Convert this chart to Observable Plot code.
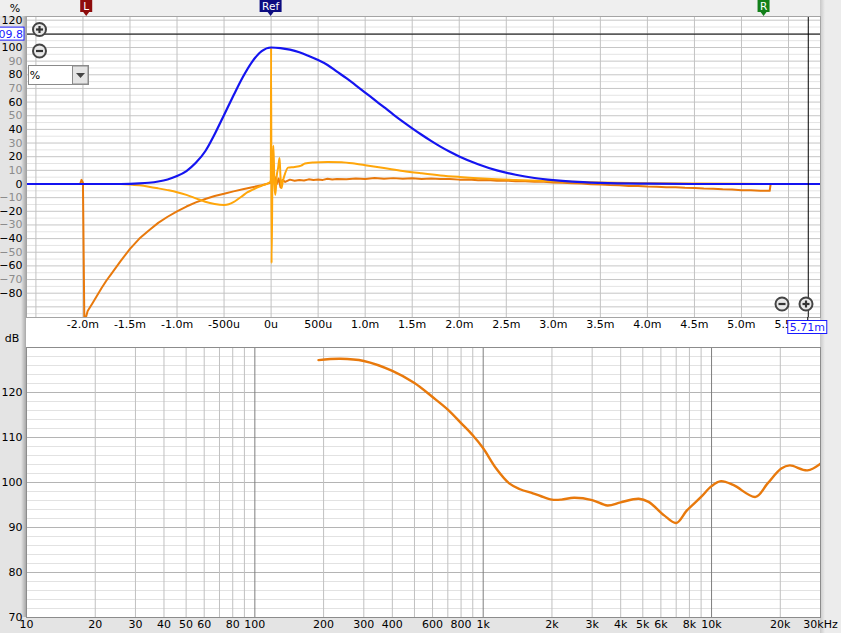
<!DOCTYPE html>
<html><head><meta charset="utf-8">
<script src="https://cdn.jsdelivr.net/npm/d3@7"></script>
<script src="https://cdn.jsdelivr.net/npm/@observablehq/plot@0.6"></script>
<style>
body{margin:0;background:#e6e6e6;}
#wrap{position:relative;width:841px;height:633px;overflow:hidden;background:#e4e4e4;font-family:"DejaVu Sans",sans-serif;}
#wrap svg{position:absolute;left:0;overflow:visible;}
.bg{position:absolute;}
</style></head><body><div id="wrap">
<div class="bg" style="left:0;top:0;width:841px;height:16px;background:#efefef"></div>
<div class="bg" style="left:820px;top:0;width:21px;height:633px;background:linear-gradient(90deg,#c8c8c8,#ececec 5px,#ececec)"></div>
<div class="bg" style="left:21px;top:16px;width:5px;height:601px;background:linear-gradient(90deg,#e4e4e4,#a8a8a8)"></div>
<div class="bg" style="left:26px;top:16px;width:794px;height:331px;background:#ffffff"></div>
</div>
<script>
// ---------- Impulse panel data ----------
const blueT = [-2.6,-1.6,-1.5,-1.4,-1.3,-1.2,-1.1,-1.0,-0.9,-0.8,-0.7,-0.6,-0.5,-0.4,-0.3,-0.2,-0.1,0,0.1,0.2,0.3,0.4,0.5,0.6,0.7,0.8,0.9,1.0,1.1,1.2,1.3,1.4,1.5,1.6,1.7,1.8,1.9,2.0,2.2,2.4,2.6,2.8,3.0,3.2,3.5,4.0,4.5,5.84];
const blueV = [0,0,0.1,0.4,0.9,1.8,3.3,5.8,9.5,15.5,24,36.5,50.6,64.8,78.4,89.7,97.3,100,99.6,98.4,96.5,93.8,90.8,87.2,82.3,77.5,72.3,67,61.6,56.3,50.9,45.7,40.8,36.1,31.6,27.4,23.6,20.2,14.5,10,6.8,4.4,2.8,1.7,0.8,0.2,0,0];

const darkT = [-2.6,-2.03,-2.015,-2.0,-1.985,-1.95,-1.9,-1.8,-1.75,-1.7,-1.6,-1.5,-1.4,-1.3,-1.2,-1.1,-1.0,-0.9,-0.8,-0.7,-0.6,-0.5,-0.4,-0.3,-0.2,-0.1,0,0.02,0.04,0.06,0.08,0.1,0.12,0.15,0.2,0.25,0.3,0.35,0.4,0.45,0.5,0.55,0.6,0.65,0.7,0.8,0.9,1.0,1.1,1.2,1.3,1.4,1.5,1.6,1.7,1.8,1.9,2.0,2.1,2.2,2.3,2.4,2.5,2.6,2.7,2.8,2.9,3.0,3.1,3.2,3.3,3.4,3.5,3.6,3.7,3.8,3.9,4.0,4.1,4.2,4.3,4.4,4.5,4.6,4.7,4.8,4.9,5.0,5.1,5.2,5.3,5.31,5.84];
const darkV = [0,0,3,1,-102,-93,-87.5,-76,-70.7,-66,-56.5,-47.5,-40,-34,-28.5,-24,-20,-16.5,-13.5,-11,-8.8,-7.2,-5.4,-3.9,-2.4,-0.9,1,3,5,0,4,-2.5,3,1.5,3.2,2.4,3.0,2.6,3.4,2.9,3.3,3.0,3.8,3.3,3.7,3.4,4.0,3.7,4.4,3.9,4.3,3.9,4.2,3.7,4.0,3.6,3.7,3.2,3.3,2.8,2.9,2.4,2.5,2.0,2.1,1.6,1.6,1.1,0.9,0.5,0.3,-0.2,-0.4,-0.8,-0.9,-1.4,-1.5,-1.9,-2.0,-2.4,-2.4,-2.8,-3.0,-3.3,-3.4,-3.9,-4.0,-4.5,-4.6,-4.9,-5.0,0,0];

const lightT = [-2.6,-1.6,-1.5,-1.4,-1.3,-1.2,-1.1,-1.0,-0.9,-0.8,-0.7,-0.6,-0.5,-0.45,-0.4,-0.35,-0.3,-0.25,-0.2,-0.15,-0.1,-0.05,-0.01,-0.003,0,0.005,0.015,0.025,0.035,0.045,0.06,0.075,0.09,0.1,0.11,0.125,0.15,0.18,0.25,0.32,0.36,0.45,0.6,0.75,0.9,1.0,1.2,1.4,1.6,1.8,2.0,2.3,2.6,2.9,3.2,3.5,4.0,4.5,5.0,5.84];
const lightV = [0,0,-0.3,-1,-2,-3.2,-4.5,-6,-8,-10.5,-13,-14.6,-15.3,-14.8,-13.3,-11,-8.5,-6,-4.3,-2.7,-1.3,0,1.5,3,100,-58,10,28,0,-8,6,12,19,5,-3,2,8,12,12.5,13.5,15,15.8,16.2,16,14.8,13.8,11.7,9.5,7.8,6.3,5.2,3.9,3,2.2,1.6,1.1,0.6,0.3,0.1,0];

const topXTicks = [-2,-1.5,-1,-0.5,0,0.5,1,1.5,2,2.5,3,3.5,4,4.5,5,5.5];
const topXLabels = ["-2.0m","-1.5m","-1.0m","-500u","0u","500u","1.0m","1.5m","2.0m","2.5m","3.0m","3.5m","4.0m","4.5m","5.0m","5.5m"];
const topYBlack = [120,100,80,60,40,20,0,-20,-40,-60,-80];
const topYGrey = [90,70,50,30,10,-10,-30,-50,-70];
const markerT = [-1.96, 0, 5.24];
const markerLabel = ["L","Ref","R"];
const markerColor = ["#8e0c0c","#0c0c80","#12801a"];
const cursorT = 5.71, cursorV = 109.8;

// ---------- Frequency panel data ----------
const freq = [190,237,300,400,500,600,700,800,900,1000,1140,1300,1450,1650,1783,2000,2200,2500,3000,3500,4000,4800,5300,6200,7000,7800,9000,10000,11000,12500,15600,17600,20200,22000,26300,30000];
const spl  = [127.2,127.5,127.0,124.8,122.1,119.0,116.2,113.2,110.5,107.6,103.1,99.8,98.5,97.6,97.0,96.2,96.2,96.6,96.1,94.9,95.6,96.4,95.7,92.7,91.0,93.8,96.8,99.2,100.3,99.4,96.8,99.8,103.1,103.8,102.7,104.2];
const fTicks = [10,20,30,40,50,60,80,100,200,300,400,600,800,1000,2000,3000,4000,5000,6000,8000,10000,20000,30000];
const fLabels = ["10","20","30","40","50","60","80","100","200","300","400","600","800","1k","2k","3k","4k","5k","6k","8k","10k","20k","30kHz"];
const dbTicks = [70,80,90,100,110,120];

const rows = (xs, ys) => xs.map((x,i)=>({x, y: ys[i]}));
const font = {background:"transparent", fontFamily:"DejaVu Sans", fontSize:"11px", color:"#000"};

const gridXTop = d3.range(-2.5, 5.51, 0.5);
const gridYMinor = d3.range(-95, 121, 10);
const gridYMajor = d3.range(-90, 121, 10);

const topPlot = Plot.plot({
  width: 841, height: 345, marginLeft: 26, marginRight: 21, marginTop: 16, marginBottom: 28,
  x: {domain: [-2.6, 5.84], axis: null}, y: {domain: [-97.8, 122.7], label: null},
  style: font,
  marks: [
    Plot.ruleY(gridYMinor, {stroke: "#e4e4e4", strokeWidth: 1}),
    Plot.ruleY(gridYMajor, {stroke: "#c6c6c6", strokeWidth: 1}),
    Plot.ruleX(gridXTop, {stroke: "#c2c2c2", strokeWidth: 1}),
    Plot.line(rows(darkT, darkV), {x:"x", y:"y", stroke:"#e8790c", strokeWidth:2, clip:true}),
    Plot.line(rows(lightT, lightV), {x:"x", y:"y", stroke:"#ffa60a", strokeWidth:2, curve:"monotone-x", clip:true}),
    Plot.line(rows(blueT, blueV), {x:"x", y:"y", stroke:"#1414f0", strokeWidth:2.2, curve:"monotone-x", clip:true}),
    Plot.ruleY([cursorV], {stroke:"#000", strokeWidth:1, x1:-2.6, x2:5.84}),
    Plot.ruleX([cursorT], {stroke:"#000", strokeWidth:1}),
    Plot.frame({stroke:"#a4a4a4"}),
    Plot.text(topXTicks, {x: d=>d, text:(d,i)=>topXLabels[i], frameAnchor:"bottom", dy:10, fill:"#000"}),
    Plot.axisY(topYBlack, {tickSize:0, tickPadding:4, fill:"#000", label:null}),
    Plot.axisY(topYGrey, {tickSize:0, tickPadding:4, fill:"#8c8c8c", label:null})
  ]
});
topPlot.style.top = "0px";
document.getElementById("wrap").appendChild(topPlot);

const gridF = [];
for (const d of [10,100,1000]) for (let k=2;k<=9;k++) gridF.push(d*k);
gridF.push(20000, 30000);
const gridFDecade = [100,1000,10000];

const botPlot = Plot.plot({
  width: 841, height: 288, marginLeft: 26, marginRight: 21, marginTop: 2, marginBottom: 16,
  x: {type:"log", domain:[10, 30000], axis: null}, y: {domain:[70,130], label: null},
  style: font,
  marks: [
    Plot.frame({fill:"#fff"}),
    Plot.ruleY(d3.range(72,130,2), {stroke:"#e2e2e2"}),
    Plot.ruleY(d3.range(80,130,10), {stroke:"#b4b4b4"}),
    Plot.ruleX(gridF, {stroke:"#c0c0c0"}),
    Plot.ruleX(gridFDecade, {stroke:"#7e7e7e"}),
    Plot.line(rows(freq, spl), {x:"x", y:"y", stroke:"#e8790c", strokeWidth:2.4, curve:"catmull-rom", clip:true}),
    Plot.frame({stroke:"#8c8c8c"}),
    Plot.text(fTicks, {x: d=>d, text:(d,i)=>fLabels[i], frameAnchor:"bottom", dy:10, fill:"#000"}),
    Plot.axisY(dbTicks, {tickSize:0, tickPadding:4, fill:"#000", label:null})
  ]
});
botPlot.style.top = "345px";
document.getElementById("wrap").appendChild(botPlot);

// ---------- UI chrome (markers, cursor readouts, buttons) ----------
const svgT = d3.select(topPlot);
const sx = topPlot.scale("x"), sy = topPlot.scale("y");
const ff = "DejaVu Sans";

svgT.append("text").attr("x", 15).attr("y", 12).attr("text-anchor","middle").attr("font-family",ff).attr("font-size",11).text("%");

markerT.forEach((t,i) => {
  const cx = sx.apply(t);
  const w = markerLabel[i].length > 1 ? 22 : 12;
  const g = svgT.append("g");
  g.append("path").attr("d", `M${cx-w/2},0 H${cx+w/2} V12 L${cx+3},12 L${cx},16 L${cx-3},12 L${cx-w/2},12 Z`).attr("fill", markerColor[i]);
  g.append("text").attr("x", cx).attr("y", 10).attr("text-anchor","middle").attr("font-family",ff).attr("font-size",10.5).attr("fill","#fff").text(markerLabel[i]);
});

// y cursor readout
const cy = sy.apply(cursorV);
svgT.append("rect").attr("x",-1).attr("y",cy-6.5).attr("width",25).attr("height",13).attr("fill","#fff").attr("stroke","#1a1aff");
svgT.append("text").attr("x",23).attr("y",cy+4).attr("text-anchor","end").attr("font-family",ff).attr("font-size",11).attr("fill","#1a1aff").text(String(cursorV));
// x cursor readout
const cxr = sx.apply(cursorT);
svgT.append("line").attr("x1",cxr).attr("x2",cxr).attr("y1",317).attr("y2",321).attr("stroke","#000");
svgT.append("rect").attr("x",cxr-20).attr("y",320.5).attr("width",39).attr("height",13).attr("fill","#fff").attr("stroke","#1a1aff");
svgT.append("text").attr("x",cxr-0.5).attr("y",331).attr("text-anchor","middle").attr("font-family",ff).attr("font-size",11).attr("fill","#1a1aff").text(cursorT.toFixed(2)+"m");

function zoomBtn(x, y, plus) {
  const g = svgT.append("g");
  g.append("circle").attr("cx",x).attr("cy",y).attr("r",6.5).attr("fill","#e8e8e8").attr("stroke","#444").attr("stroke-width",2);
  g.append("line").attr("x1",x-3.5).attr("x2",x+3.5).attr("y1",y).attr("y2",y).attr("stroke","#333").attr("stroke-width",2.2);
  if (plus) g.append("line").attr("x1",x).attr("x2",x).attr("y1",y-3.5).attr("y2",y+3.5).attr("stroke","#333").attr("stroke-width",2.2);
}
zoomBtn(39.5, 29.5, true);
zoomBtn(39.5, 51, false);
zoomBtn(782, 304, false);
zoomBtn(806, 304, true);

// units dropdown
const dd = svgT.append("g");
dd.append("rect").attr("x",28.5).attr("y",65.5).attr("width",60).attr("height",19).attr("fill","#fff").attr("stroke","#8a8a8a");
dd.append("rect").attr("x",72.5).attr("y",66).attr("width",15.5).attr("height",18).attr("fill","#e4e4e4").attr("stroke","#8a8a8a");
dd.append("path").attr("d","M76,73 H85 L80.5,78 Z").attr("fill","#444");
dd.append("text").attr("x",35).attr("y",79).attr("font-family",ff).attr("font-size",11).text("%");

// dB unit label for bottom panel
d3.select(botPlot).append("text").attr("x",12).attr("y",-3).attr("text-anchor","middle").attr("font-family",ff).attr("font-size",11).text("dB");
</script></body></html>
